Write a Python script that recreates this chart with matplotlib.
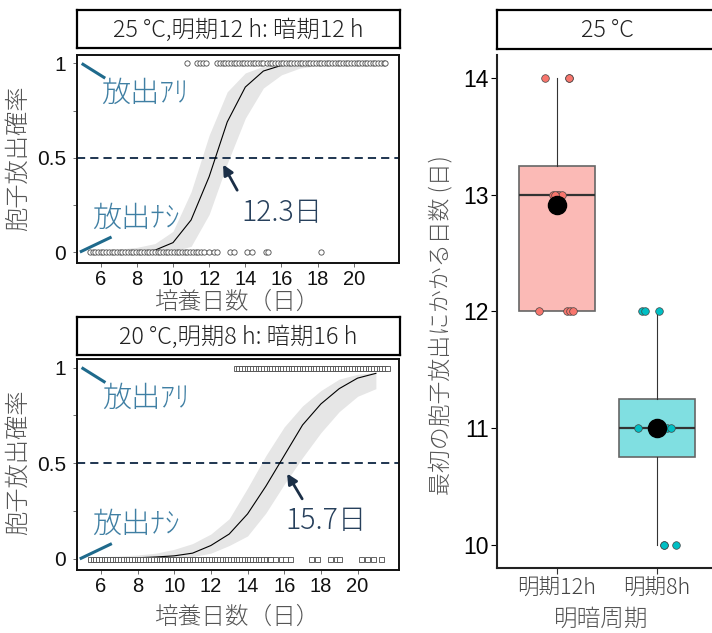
import numpy as np
import matplotlib.pyplot as plt

JP = ['Noto Sans CJK JP', 'DejaVu Sans']
NUM = ['Liberation Sans', 'DejaVu Sans']
plt.rcParams['font.family'] = JP

# ---------------- data: panel 1 (25 °C, 12h:12h) ----------------
p1_curve_day = [5.4, 6, 7, 8, 9, 10, 11, 12, 13, 14, 15, 16, 17, 18, 19, 20, 21, 21.7]
p1_curve_p = [0.0, 0.0, 0.001, 0.003, 0.01, 0.05, 0.17, 0.40, 0.69, 0.875, 0.96, 0.99,
              0.997, 1.0, 1.0, 1.0, 1.0, 1.0]
p1_lower = [0.0, 0.0, 0.0, 0.0, 0.0, 0.005, 0.03, 0.20, 0.47, 0.71, 0.87, 0.94,
            0.975, 0.99, 0.995, 1.0, 1.0, 1.0]
p1_upper = [0.01, 0.012, 0.015, 0.025, 0.045, 0.11, 0.32, 0.62, 0.85, 0.95, 0.985, 0.995,
            1.0, 1.0, 1.0, 1.0, 1.0, 1.0]
p1_release = [10.8, 11.35, 11.5, 11.65, 11.8, 12.45, 12.6, 12.75, 12.9, 13.05, 13.2, 13.35,
              13.5, 13.65, 13.8, 13.95, 14.1, 14.25, 14.4, 14.55, 14.7, 14.85, 15.0,
              15.2, 15.35, 15.5, 15.65, 15.8, 15.95, 16.1, 16.25, 16.4, 16.55, 16.7, 16.85,
              17.0, 17.15, 17.3, 17.45, 17.6, 17.75, 17.9, 18.05, 18.2, 18.35, 18.5, 18.65,
              18.8, 18.95, 19.1, 19.25, 19.4, 19.55, 19.7, 19.85, 20.0, 20.15, 20.3, 20.45,
              20.6, 20.75, 20.9, 21.05, 21.2, 21.35, 21.5, 21.65, 21.75]
p1_none = [5.4, 5.55, 5.7, 5.85, 6.0, 6.15, 6.3, 6.45, 6.6, 6.75, 6.9, 7.05, 7.2, 7.35,
           7.5, 7.65, 7.8, 7.95, 8.1, 8.25, 8.4, 8.55, 8.7, 8.85, 9.0, 9.15, 9.3, 9.45,
           9.6, 9.75, 9.9, 10.05, 10.2, 10.35, 10.5, 10.65, 10.8, 10.95, 11.1, 11.25,
           11.4, 11.55, 11.7, 11.97, 12.25, 12.44, 13.17, 13.4, 14.1, 14.38, 15.17, 15.25,
           18.17]
p1_t50 = "12.3日"

# ---------------- data: panel 2 (20 °C, 8h:16h) ----------------
p2_curve_day = [5.4, 6, 7, 8, 9, 10, 11, 12, 13, 14, 15, 16, 17, 18, 19, 20, 21]
p2_curve_p = [0.002, 0.003, 0.004, 0.006, 0.01, 0.016, 0.03, 0.07, 0.13, 0.235, 0.38,
              0.54, 0.70, 0.81, 0.89, 0.945, 0.97]
p2_lower = [0.0, 0.0, 0.0, 0.0, 0.002, 0.005, 0.012, 0.03, 0.07, 0.12, 0.24, 0.39, 0.53,
            0.66, 0.77, 0.85, 0.89]
p2_upper = [0.01, 0.012, 0.015, 0.02, 0.03, 0.05, 0.08, 0.13, 0.21, 0.37, 0.54, 0.69,
            0.80, 0.88, 0.94, 0.965, 0.975]
p2_release = [13.35, 13.5, 13.65, 13.8, 13.95, 14.1, 14.25, 14.4, 14.55, 14.7, 14.85, 15.0,
              15.15, 15.3, 15.45, 15.6, 15.75, 15.9, 16.05, 16.2, 16.35, 16.5, 16.65, 16.8,
              16.95, 17.1, 17.25, 17.4, 17.55, 17.7, 17.85, 18.0, 18.15, 18.3, 18.45, 18.6,
              18.75, 18.9, 19.05, 19.2, 19.35, 19.5, 19.65, 19.8, 19.95, 20.1, 20.25, 20.4,
              20.55, 20.7, 20.85, 21.0, 21.15, 21.3, 21.45, 21.6]
p2_none = [5.4, 5.55, 5.7, 5.85, 6.0, 6.15, 6.3, 6.45, 6.6, 6.75, 6.9, 7.05, 7.2, 7.35,
           7.5, 7.65, 7.8, 7.95, 8.1, 8.25, 8.4, 8.55, 8.7, 8.85, 9.0, 9.15, 9.3, 9.45,
           9.6, 9.75, 9.9, 10.05, 10.2, 10.35, 10.5, 10.65, 10.8, 10.95, 11.1, 11.25,
           11.4, 11.55, 11.7, 11.85, 12.0, 12.15, 12.3, 12.45, 12.6, 12.75, 12.9, 13.05,
           13.2, 13.35, 13.5, 13.65, 13.8, 13.95, 14.1, 14.25, 14.4, 14.55, 14.7, 14.85,
           15.0, 15.15, 15.25, 15.5, 15.8, 16.07, 16.34, 17.44, 17.8, 18.52, 18.8, 19.0,
           20.2, 20.5, 20.85, 21.26]
p2_t50 = "15.7日"

strip_titles = ["25 °C,明期12 h: 暗期12 h", "20 °C,明期8 h: 暗期16 h", "25 °C"]

# ---------------- data: box plot ----------------
groups = ["明期12h", "明期8h"]
g1_days = [14, 14, 14, 13, 13, 13, 13, 13, 12, 12, 12, 12]
g1_jit = [-0.12, 0.12, 0.12, -0.04, 0.0, 0.02, 0.05, -0.02, -0.18, 0.10, 0.13, 0.16]
g2_days = [12, 12, 12, 11, 11, 11, 11, 11, 11, 10, 10, 10]
g2_jit = [-0.15, -0.12, 0.02, -0.19, 0.10, 0.14, 0.0, 0.05, -0.05, 0.07, 0.19, 0.07]

# ---------------- figure ----------------
W, H = 712, 633
fig = plt.figure(figsize=(W / 100, H / 100), dpi=100)
LW = 'light'


def rect(l, t, r, b):
    return [l / W, 1 - b / H, (r - l) / W, (b - t) / H]


def strip(l, t, r, b, text):
    ax = fig.add_axes(rect(l, t, r, b))
    ax.set_xticks([])
    ax.set_yticks([])
    for s in ax.spines.values():
        s.set_linewidth(1.6)
        s.set_color('black')
    ax.text(0.5, 0.47, text, ha='center', va='center', fontsize=16.8, fontweight=LW,
            color='#222222', transform=ax.transAxes, family=JP)


TXT_BLUE = '#3f7fa3'
LINE_BLUE = '#1f6a8c'
NAVY = '#1e3550'


def prob_panel(box, xlim, cday, cp, lo, hi, rel, none, marker, t50, arrow, ttext):
    ax = fig.add_axes(rect(*box))
    ax.fill_between(cday, lo, hi, color='#e6e6e6', lw=0, zorder=1)
    ax.plot(cday, cp, color='black', lw=0.8, zorder=3)
    ax.axhline(0.5, color=NAVY, lw=1.4, dashes=(4.2, 2.6), zorder=2)
    ms = 3.8 if marker == 'o' else 3.6
    ax.plot(rel, np.ones(len(rel)), ls='none', marker=marker, ms=ms, mfc='white',
            mec='#4a4a4a', mew=0.6, zorder=4)
    ax.plot(none, np.zeros(len(none)), ls='none', marker=marker, ms=ms, mfc='white',
            mec='#4a4a4a', mew=0.6, zorder=4)
    ax.set_xlim(*xlim)
    ax.set_ylim(-0.058, 1.045)
    ax.set_xticks([6, 8, 10, 12, 14, 16, 18, 20])
    ax.set_yticks([0, 0.25, 0.5, 0.75, 1])
    ax.set_yticklabels(['0', '', '0.5', '', '1'])
    for lab in ax.get_xticklabels():
        lab.set_fontfamily(NUM)
        lab.set_fontsize(14.5)
    for lab in ax.get_yticklabels():
        lab.set_fontfamily(NUM)
        lab.set_fontsize(15)
    ax.tick_params(axis='both', length=3, width=0.6, color='#555555', colors='#111111')
    ax.tick_params(axis='x', pad=2)
    ax.tick_params(axis='y', pad=5)
    for s in ax.spines.values():
        s.set_linewidth(1.4)
        s.set_color('#111111')
    # annotations
    ax.plot([4.95, 6.25], [1.0, 0.922], color=LINE_BLUE, lw=2.2, solid_capstyle='butt',
            clip_on=False, zorder=5)
    ax.text(6.05, 0.84, "放出ｱﾘ", fontsize=21, fontweight=LW, color=TXT_BLUE, ha='left',
            va='center', family=JP)
    ax.plot([4.85, 6.6], [0.0, 0.08], color=LINE_BLUE, lw=2.2, solid_capstyle='butt',
            clip_on=False, zorder=5)
    ax.text(5.55, 0.18, "放出ﾅｼ", fontsize=21, fontweight=LW, color=TXT_BLUE, ha='left',
            va='center', family=JP)
    ax.annotate('', xy=arrow[0], xytext=arrow[1],
                arrowprops=dict(arrowstyle='-|>,head_length=0.6,head_width=0.3',
                                color='#1b2f47', lw=2.0, shrinkA=0, shrinkB=0))
    ax.text(ttext[0], ttext[1], t50, fontsize=20.5, fontweight=LW, color='#27405c',
            ha='left', va='center', family=JP)
    return ax


strip(77, 10, 400, 48, strip_titles[0])
prob_panel((77, 55, 399, 263), (4.69, 22.5), p1_curve_day, p1_curve_p, p1_lower, p1_upper,
           p1_release, p1_none, 'o', p1_t50, ((12.77, 0.464), (13.55, 0.328)), (13.8, 0.21))
fig.text(19 / W, 1 - 158 / H, "胞子放出確率", rotation=90, ha='center', va='center',
         fontsize=17.5, fontweight=LW, color='#555555', family=JP)
fig.text(237 / W, 1 - 302 / H, "培養日数（日）", ha='center', va='center', fontsize=17,
         fontweight=LW, color='#555555', family=JP)

strip(77, 317, 400, 355, strip_titles[1])
prob_panel((77, 359, 399, 570), (4.70, 22.26), p2_curve_day, p2_curve_p, p2_lower, p2_upper,
           p2_release, p2_none, 's', p2_t50, ((16.16, 0.446), (16.98, 0.314)), (16.05, 0.2))
fig.text(19 / W, 1 - 462 / H, "胞子放出確率", rotation=90, ha='center', va='center',
         fontsize=17.5, fontweight=LW, color='#555555', family=JP)
fig.text(237 / W, 1 - 617 / H, "培養日数（日）", ha='center', va='center', fontsize=17,
         fontweight=LW, color='#555555', family=JP)

# ---------------- right panel ----------------
strip(497, 10, 717, 49, strip_titles[2])
axb = fig.add_axes(rect(497, 55, 717, 568))
fills = ['#fbbab6', '#80dfe1']
pts = ['#f8766d', '#00bfc4']
bp = axb.boxplot([g1_days, g2_days], positions=[1, 2], widths=0.76, patch_artist=True,
                 showfliers=False, showcaps=False, whis=1.5, zorder=2)
for patch, fc in zip(bp['boxes'], fills):
    patch.set_facecolor(fc)
    patch.set_edgecolor('#666666')
    patch.set_linewidth(1.2)
for med in bp['medians']:
    med.set_color('#333333')
    med.set_linewidth(1.6)
for wk in bp['whiskers']:
    wk.set_color('#333333')
    wk.set_linewidth(0.8)
for i, (vals, jit) in enumerate([(g1_days, g1_jit), (g2_days, g2_jit)]):
    axb.scatter(np.array(jit) + i + 1, vals, s=30, color=pts[i], edgecolor='#444444',
                linewidth=0.5, zorder=3)
    axb.scatter([i + 1], [np.mean(vals)], s=170, color='black', zorder=4)
axb.set_xlim(0.4, 2.6)
axb.set_ylim(9.8, 14.2)
axb.set_yticks([10, 11, 12, 13, 14])
axb.set_xticks([1, 2])
axb.set_xticklabels(groups)
for lab in axb.get_yticklabels():
    lab.set_fontfamily(NUM)
    lab.set_fontsize(16.5)
for lab in axb.get_xticklabels():
    lab.set_fontfamily(JP)
    lab.set_fontsize(15.5)
    lab.set_fontweight(LW)
    lab.set_color('#444444')
axb.tick_params(axis='both', length=4, width=0.8, color='#333333')
axb.tick_params(axis='y', colors='black', pad=2)
axb.tick_params(axis='x', pad=3, labelcolor='#444444')
axb.spines['top'].set_visible(False)
axb.spines['right'].set_visible(False)
axb.spines['left'].set_linewidth(1.5)
axb.spines['bottom'].set_linewidth(1.5)
axb.spines['left'].set_color('#222222')
axb.spines['bottom'].set_color('#222222')
fig.text(441 / W, 1 - 325 / H, "最初の胞子放出にかかる日数 (日)", rotation=90, ha='center',
         va='center', fontsize=16.5, fontweight=LW, color='#555555', family=JP)
fig.text(601 / W, 1 - 619 / H, "明暗周期", ha='center', va='center', fontsize=17,
         fontweight=LW, color='#555555', family=JP)

fig.savefig('out.png', dpi=100)
